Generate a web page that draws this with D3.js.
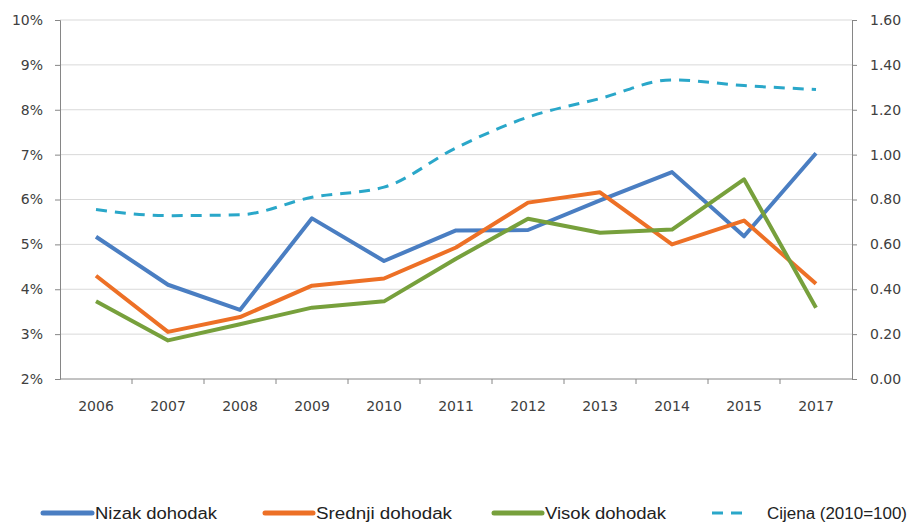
<!DOCTYPE html>
<html lang="hr">
<head>
<meta charset="utf-8">
<title>Dohodak i cijena</title>
<style>
  body { margin: 0; background: #fff; }
  .axis text { font-family: "DejaVu Sans", Verdana, sans-serif; font-size: 14px; fill: #404040; }
  .legend text { font-family: "Liberation Sans Narrow", "Liberation Sans", Arial, sans-serif; font-size: 16px; fill: #222; }
</style>
<script src="https://cdn.jsdelivr.net/npm/d3@7"></script>
</head>
<body>
<div id="chart"></div>
<script>
var years = ["2006","2007","2008","2009","2010","2011","2012","2013","2014","2015","2017"];
var nizak   = [5.17, 4.10, 3.54, 5.58, 4.63, 5.31, 5.32, 5.98, 6.61, 5.18, 7.03];
var srednji = [4.30, 3.05, 3.38, 4.08, 4.24, 4.93, 5.93, 6.16, 5.00, 5.53, 4.12];
var visok   = [3.73, 2.86, 3.22, 3.59, 3.73, 4.68, 5.57, 5.26, 5.33, 6.45, 3.59];
var cijena  = [0.755, 0.728, 0.732, 0.810, 0.855, 1.030, 1.167, 1.250, 1.333, 1.308, 1.290];
var leftTicks = [2,3,4,5,6,7,8,9,10];
var rightTicks = [0,0.2,0.4,0.6,0.8,1.0,1.2,1.4,1.6];

var w = 909, h = 522;
var plotLeft = 60, plotRight = 852, plotTop = 20, plotBottom = 379;

var svg = d3.select('#chart').append('svg')
    .attr('width', w).attr('height', h);

var x = d3.scaleBand().domain(years).range([plotLeft, plotRight]);
var yL = d3.scaleLinear().domain([2, 10]).range([plotBottom, plotTop]);
var yR = d3.scaleLinear().domain([0, 1.6]).range([plotBottom, plotTop]);

// gridlines
svg.append('g').selectAll('line')
    .data(leftTicks.slice(1))
    .enter().append('line')
    .attr('x1', plotLeft).attr('x2', plotRight)
    .attr('y1', function(d) { return yL(d); })
    .attr('y2', function(d) { return yL(d); })
    .attr('stroke', '#d9d9d9').attr('stroke-width', 1);

// axes
var axL = svg.append('g').attr('class', 'axis')
    .attr('transform', 'translate(' + plotLeft + ',0)')
    .call(d3.axisLeft(yL).tickValues(leftTicks).tickSize(5).tickPadding(12)
        .tickFormat(function(d) { return d + '%'; }));
var axR = svg.append('g').attr('class', 'axis')
    .attr('transform', 'translate(' + plotRight + ',0)')
    .call(d3.axisRight(yR).tickValues(rightTicks).tickSize(5).tickPadding(13)
        .tickFormat(d3.format('.2f')));
var axB = svg.append('g').attr('class', 'axis')
    .attr('transform', 'translate(0,' + plotBottom + ')')
    .call(d3.axisBottom(x).tickSize(0).tickPadding(22));

// band boundary ticks on x axis
svg.append('g').selectAll('line')
    .data(years.slice(1))
    .enter().append('line')
    .attr('x1', function(d) { return x(d); })
    .attr('x2', function(d) { return x(d); })
    .attr('y1', plotBottom).attr('y2', plotBottom + 5)
    .attr('stroke', '#868686');

[axL, axR, axB].forEach(function(a) {
    a.selectAll('.domain').attr('stroke', '#868686');
    a.selectAll('.tick line').attr('stroke', '#868686');
});
axB.select('.domain').attr('d', 'M' + plotLeft + ',0H' + plotRight);

var cx = function(d, i) { return x(years[i]) + x.bandwidth() / 2; };

var series = [
    { name: 'Nizak dohodak', values: nizak, color: '#4a7ec2' },
    { name: 'Srednji dohodak', values: srednji, color: '#ed7026' },
    { name: 'Visok dohodak', values: visok, color: '#77a03c' }
];

series.forEach(function(s) {
    var line = d3.line().x(cx).y(function(d) { return yL(d); });
    svg.append('path')
        .attr('d', line(s.values))
        .attr('fill', 'none')
        .attr('stroke', s.color)
        .attr('stroke-width', 4)
        .attr('stroke-linejoin', 'round');
});

var priceLine = d3.line().x(cx).y(function(d) { return yR(d); }).curve(d3.curveMonotoneX);
svg.append('path')
    .attr('d', priceLine(cijena))
    .attr('fill', 'none')
    .attr('stroke', '#2aa7c9')
    .attr('stroke-width', 3)
    .attr('stroke-dasharray', '11,8');

// legend
var legendItems = [
    { name: 'Nizak dohodak', color: '#4a7ec2', x1: 43, x2: 92, tx: 95, tw: 122, dash: null },
    { name: 'Srednji dohodak', color: '#ed7026', x1: 265, x2: 313, tx: 316, tw: 136, dash: null },
    { name: 'Visok dohodak', color: '#77a03c', x1: 494, x2: 542, tx: 545, tw: 121, dash: null },
    { name: 'Cijena (2010=100)', color: '#2aa7c9', x1: 712, x2: 748, tx: 767, tw: 140, dash: '11,8' }
];
var legend = svg.append('g').attr('class', 'legend');
legendItems.forEach(function(d) {
    var ln = legend.append('line')
        .attr('x1', d.x1).attr('x2', d.x2)
        .attr('y1', 513).attr('y2', 513)
        .attr('stroke', d.color)
        .attr('stroke-width', d.dash ? 3 : 5)
        .attr('stroke-linecap', d.dash ? 'butt' : 'round');
    if (d.dash) ln.attr('stroke-dasharray', d.dash);
    legend.append('text')
        .attr('x', d.tx).attr('y', 519)
        .attr('textLength', d.tw)
        .attr('lengthAdjust', 'spacingAndGlyphs')
        .text(d.name);
});
</script>
</body>
</html>
